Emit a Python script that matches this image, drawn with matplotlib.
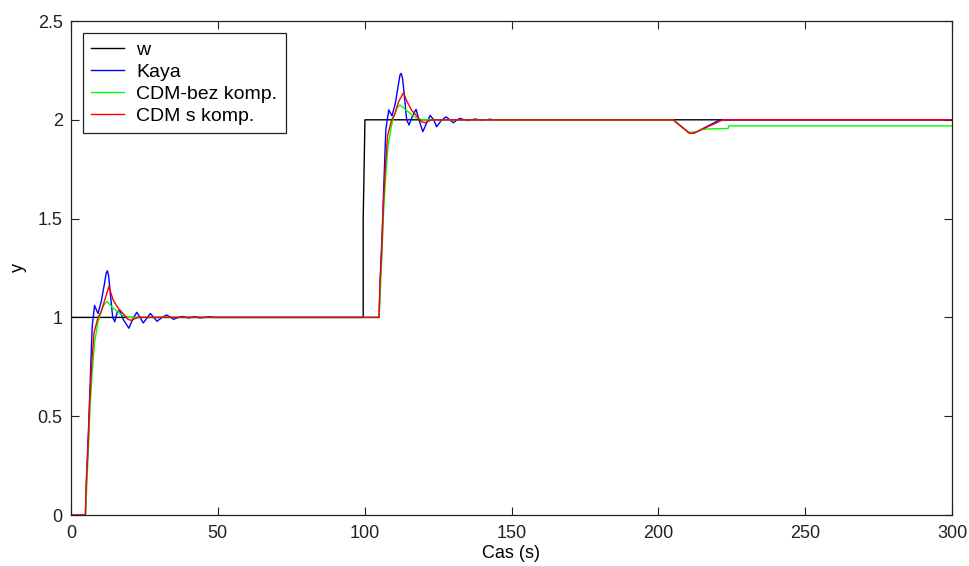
import numpy as np
import matplotlib
matplotlib.use("Agg")
import matplotlib.pyplot as plt

plt.rcParams['font.family'] = ['Liberation Sans', 'DejaVu Sans']

# ---- reference signal w ----
w_t = [0, 0, 99.5, 99.5, 100.1, 300]
w_v = [0, 1, 1, 1.5, 2, 2]

# ---- first step response (t = 0 .. 50) ----
t1_kaya = [0, 4.9, 5.3, 6.0, 6.6, 7.2, 8.0, 9.2, 10.3, 11.5, 12.0, 12.4, 12.8, 13.2,
           14.2, 14.9, 15.8, 16.6, 17.8, 19.7, 21.0, 22.4, 23.5, 24.6, 25.8, 27.0,
           28.2, 29.3, 31.0, 32.6, 34.0, 34.9, 36.5, 38.0, 40.0, 42.0, 44.0, 47.0, 49.0]
v1_kaya = [0, 0, 0.2, 0.45, 0.7, 0.95, 1.06, 1.02, 1.08, 1.18, 1.225, 1.236, 1.21, 1.15,
           1.0, 0.978, 1.03, 1.035, 0.99, 0.945, 0.99, 1.026, 1.0, 0.972, 0.995, 1.02,
           1.0, 0.98, 1.0, 1.012, 1.0, 0.99, 1.0, 1.005, 0.997, 1.004, 0.997, 1.004, 1.0]

t1_bez = [0, 4.9, 5.3, 5.9, 6.5, 7.2, 8.0, 9.0, 9.6, 11.0, 12.3, 14.4, 17.2, 19.4, 25.0]
v1_bez = [0, 0, 0.12, 0.33, 0.55, 0.72, 0.87, 0.96, 1.0, 1.06, 1.08, 1.046, 1.013, 1.0, 1.0]

t1_sk = [0, 4.9, 5.2, 5.8, 6.4, 7.0, 7.8, 9.2, 10.3, 11.5, 12.9, 14.3, 16.0, 17.7,
         19.4, 20.5, 22.8, 25.0]
v1_sk = [0, 0, 0.16, 0.33, 0.58, 0.75, 0.92, 1.0, 1.03, 1.088, 1.157, 1.09, 1.048, 1.02,
         0.99, 0.985, 1.0, 1.0]

# ---- second step response (t = 100 .. 145) ----
t2_kaya = [104.9, 105.3, 106.0, 106.6, 107.2, 108.2, 109.3, 110.4, 111.5, 112.0, 112.4,
           112.9, 113.4, 114.3, 115.1, 116.3, 117.5, 118.5, 119.8, 121.0, 122.3, 123.5,
           124.5, 126.0, 127.7, 129.0, 130.2, 131.5, 132.5, 134.0, 135.3, 137.6, 140.0, 142.7, 144.0]
v2_kaya = [1.0, 1.2, 1.45, 1.7, 1.95, 2.05, 2.02, 2.08, 2.18, 2.225, 2.235,
           2.21, 2.14, 2.0, 1.974, 2.02, 2.053, 2.0, 1.94, 1.98, 2.022, 2.0,
           1.965, 1.995, 2.015, 2.0, 1.985, 2.0, 2.007, 2.0, 1.996, 2.004, 1.997, 2.003, 2.0]

t2_bez = [104.9, 105.3, 105.9, 106.5, 107.2, 108.0, 109.0, 109.6, 111.0, 112.0, 114.4,
          117.2, 119.4, 125.0]
v2_bez = [1.0, 1.12, 1.33, 1.55, 1.72, 1.87, 1.96, 2.0, 2.06, 2.075, 2.046, 2.013, 2.0, 2.0]

t2_sk = [104.9, 105.2, 105.8, 106.4, 107.0, 107.8, 109.2, 110.3, 111.5, 113.2, 114.5,
         116.0, 117.7, 119.4, 120.5, 122.8, 125.0]
v2_sk = [1.0, 1.16, 1.33, 1.58, 1.75, 1.92, 2.0, 2.03, 2.09, 2.137, 2.09, 2.048, 2.02,
         1.99, 1.985, 2.0, 2.0]

# ---- disturbance (t = 205 .. 300) ----
t3_kaya = [205.0, 210.5, 212.5, 221.0, 300]
v3_kaya = [2.0, 1.935, 1.935, 2.0, 2.0]

t3_bez = [205.0, 210.5, 213.0, 214.5, 220.0, 223.8, 224.0, 300]
v3_bez = [2.0, 1.935, 1.94, 1.952, 1.955, 1.956, 1.969, 1.969]

t3_sk = [205.0, 210.5, 212.0, 222.0, 300]
v3_sk = [2.0, 1.932, 1.932, 2.0, 2.0]

labels = ['w', 'Kaya', 'CDM-bez komp.', 'CDM s komp.']
colors = ['#000000', '#0000ff', '#00ff00', '#ff0000']

x_ticks = [0, 50, 100, 150, 200, 250, 300]
y_ticks = [0, 0.5, 1, 1.5, 2, 2.5]
y_tick_labels = ['0', '0.5', '1', '1.5', '2', '2.5']

kaya_t = t1_kaya + t2_kaya + t3_kaya
kaya_v = v1_kaya + v2_kaya + v3_kaya
bez_t = t1_bez + t2_bez + t3_bez
bez_v = v1_bez + v2_bez + v3_bez
sk_t = t1_sk + t2_sk + t3_sk
sk_v = v1_sk + v2_sk + v3_sk

fig = plt.figure(figsize=(9.69, 5.66), dpi=100)
ax = fig.add_axes([71/969, 1-515/566, (952-71)/969, (515-21)/566])

ax.plot(w_t, w_v, color=colors[0], lw=1.0, label=labels[0])
ax.plot(kaya_t, kaya_v, color=colors[1], lw=1.0, label=labels[1])
ax.plot(bez_t, bez_v, color=colors[2], lw=1.0, label=labels[2])
ax.plot(sk_t, sk_v, color=colors[3], lw=1.0, label=labels[3])

ax.set_xlim(0, 300)
ax.set_ylim(0, 2.5)
ax.set_xticks(x_ticks)
ax.set_xticklabels([str(v) for v in x_ticks])
ax.set_yticks(y_ticks)
ax.set_yticklabels(y_tick_labels)
ax.tick_params(direction='in', length=5.8, width=0.8, top=True, right=True,
               labelsize=13, pad=6, colors='#222222')
ax.tick_params(axis='x', pad=7)
for s in ax.spines.values():
    s.set_color('#222222')
    s.set_linewidth(0.9)

ax.set_xlabel('Cas (s)', fontsize=13, labelpad=2)
ax.set_ylabel('y', fontsize=13, labelpad=8)

leg = ax.legend(loc='upper left', fontsize=14, frameon=True, fancybox=False,
                edgecolor='#222222', framealpha=1, handlelength=1.7,
                handletextpad=0.6, labelspacing=0.22, borderaxespad=0.6,
                borderpad=0.45)
leg.get_frame().set_linewidth(0.9)

fig.savefig('out.png', dpi=100)
